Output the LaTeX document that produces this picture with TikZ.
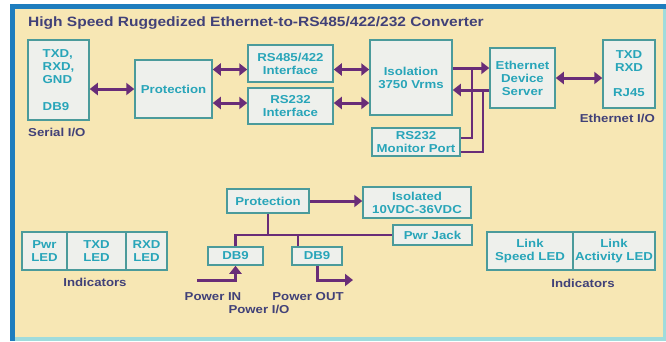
\documentclass[tikz,border=0pt]{standalone}
\usepackage{fontspec}
\setmainfont[FakeStretch=1.15]{Liberation Sans}
\usetikzlibrary{arrows.meta,positioning,calc}

\definecolor{bgcream}{RGB}{247,231,180}
\definecolor{frameblue}{RGB}{30,125,190}
\definecolor{edgecyan}{RGB}{160,220,220}
\definecolor{boxfill}{RGB}{238,240,236}
\definecolor{boxline}{RGB}{75,155,155}
\definecolor{boxtext}{RGB}{40,165,185}
\definecolor{labnavy}{RGB}{65,65,120}
\definecolor{wirepurple}{RGB}{105,45,120}

\begin{document}
\begin{tikzpicture}[x=1pt, y=-1pt,
  every node/.style={font=\bfseries\fontsize{11.5}{13}\selectfont, align=center},
  blk/.style={draw=boxline, line width=1.5pt, fill=boxfill, text=boxtext, inner sep=1pt},
  lab/.style={text=labnavy, inner sep=0pt},
  arr/.style={draw=wirepurple, line width=3pt, -{Triangle[length=8pt, width=12pt]}},
  darr/.style={draw=wirepurple, line width=3pt,
               {Triangle[length=8pt, width=12pt]}-{Triangle[length=8pt, width=12pt]}},
  bus/.style={draw=wirepurple, line width=2.4pt}
]
\useasboundingbox (0,0) rectangle (666,341);
% frame
\fill[edgecyan] (10,4) rectangle (666,341);
\fill[frameblue] (10,4) rectangle (666,9);
\fill[frameblue] (10,4) rectangle (15,341);
\fill[bgcream] (15,9) rectangle (663,337);

\node[lab, anchor=west, font=\bfseries\fontsize{13.5}{15}\selectfont] (title) at (28,23)
  {High Speed Ruggedized Ethernet-to-RS485/422/232 Converter};

% data path
\node[blk, minimum width=61pt, minimum height=80pt, align=left] (serial) at (58.5,80)
  {TXD,\\RXD,\\GND\\[14pt]DB9};
\node[lab, anchor=west] (seriallab) at (28,132) {Serial I/O};
\node[blk, minimum width=77pt, minimum height=58pt] (prot1) at (173.5,89) {Protection};
\node[blk, minimum width=85pt, minimum height=37pt] (rs485) at (290.5,63.5) {RS485/422\\Interface};
\node[blk, minimum width=85pt, minimum height=36pt] (rs232) at (290.5,106) {RS232\\Interface};
\node[blk, minimum width=82pt, minimum height=75pt] (iso) at (411,77.5) {Isolation\\3750 Vrms};
\node[blk, minimum width=88pt, minimum height=28pt] (monitor) at (416,142) {RS232\\Monitor Port};
\node[blk, minimum width=65pt, minimum height=60pt] (eds) at (522.5,78) {Ethernet\\Device\\Server};
\node[blk, minimum width=52pt, minimum height=68pt] (rj45) at (629,74) {TXD\\RXD\\[12pt]RJ45};
\node[lab, anchor=east] (ethlab) at (655,118) {Ethernet I/O};

\draw[darr] (serial.east |- prot1.west) -- (prot1.west);
\draw[darr] ([yshift=-6pt]prot1.east |- rs485.west) -- ([yshift=-6pt]rs485.west);
\draw[darr] ([yshift=3pt]prot1.east |- rs232.west) -- ([yshift=3pt]rs232.west);
\draw[darr] ([yshift=-6pt]rs485.east) -- ([yshift=-6pt]iso.west |- rs485.east);
\draw[darr] ([yshift=3pt]rs232.east) -- ([yshift=3pt]iso.west |- rs232.east);
\draw[arr] ([yshift=10pt]iso.east |- eds.west) -- ([yshift=10pt]eds.west);
\draw[arr] ([yshift=-12pt]eds.west) -- ([yshift=-12pt]iso.east |- eds.west);
\draw[darr] (eds.east) -- (eds.east -| rj45.west);

\coordinate (tapA) at (472,68);
\coordinate (tapB) at (483,90);
\draw[bus] ([yshift=4pt]monitor.east) -| (tapA);
\draw[bus] ([yshift=-10pt]monitor.east) -| (tapB);

% indicators
\node[blk, minimum width=45pt, minimum height=38pt] (pwrled) at (44.5,251) {Pwr\\LED};
\node[blk, minimum width=59pt, minimum height=38pt] (txdled) at (96.5,251) {TXD\\LED};
\node[blk, minimum width=41pt, minimum height=38pt] (rxdled) at (146.5,251) {RXD\\LED};
\node[lab] (indlab1) at (95,282) {Indicators};

\node[blk, minimum width=86pt, minimum height=38pt] (speedled) at (530,251) {Link\\Speed LED};
\node[blk, minimum width=82pt, minimum height=38pt] (actled) at (614,251) {Link\\Activity LED};
\node[lab] (indlab2) at (583,283) {Indicators};

% power path
\node[blk, minimum width=82pt, minimum height=24pt] (prot2) at (268,201) {Protection};
\node[blk, minimum width=108pt, minimum height=31pt] (isodc) at (417,202.5) {Isolated\\10VDC-36VDC};
\node[blk, minimum width=79pt, minimum height=20pt] (jack) at (432.5,235) {Pwr Jack};
\node[blk, minimum width=55pt, minimum height=18pt] (db9a) at (235.5,256) {DB9};
\node[blk, minimum width=50pt, minimum height=18pt] (db9b) at (317,256) {DB9};

\draw[arr] (prot2.east) -- (prot2.east -| isodc.west);
\draw[bus] (prot2.south) -- (prot2.south |- jack.west);
\draw[bus] (db9a.north) |- (jack.west);
\draw[bus] ([xshift=-19pt]db9b.north) -- ([xshift=-19pt]db9b.north |- jack.west);

\coordinate (pin) at (197,280);
\coordinate (pout) at (353,280);
\draw[arr] (pin) -| (db9a.south);
\draw[arr] (db9b.south) |- (pout);

\node[lab] (pinlab) at (213,297) {Power IN};
\node[lab] (poutlab) at (308,297) {Power OUT};
\node[lab] (piolab) at (259,309) {Power I/O};
\end{tikzpicture}
\end{document}
